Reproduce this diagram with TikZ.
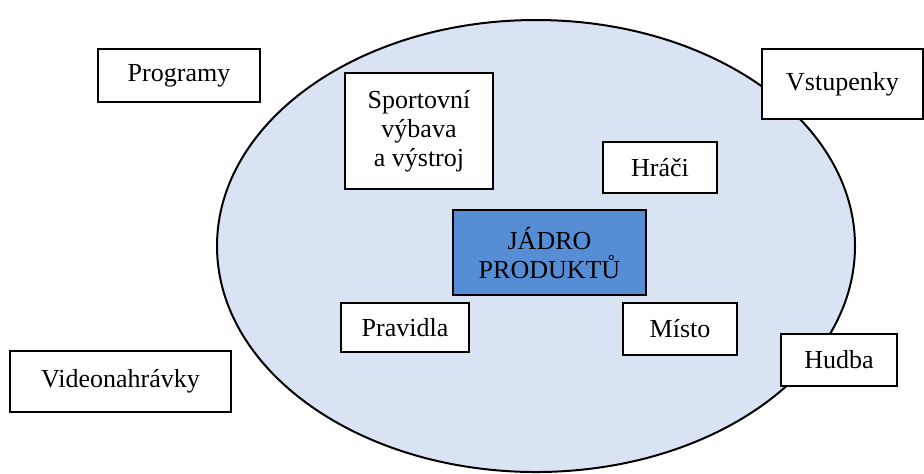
\documentclass[tikz,border=0pt]{standalone}
\usepackage{fontspec}
\setmainfont{Liberation Serif}
\usepackage{tikz}
\usetikzlibrary{positioning,shapes}

\definecolor{ringfill}{HTML}{DAE3F3}
\definecolor{corefill}{HTML}{558ED5}

\begin{document}
\begin{tikzpicture}[x=0.5pt,y=-0.5pt,
  box/.style={draw,line width=1pt,fill=white,align=center,inner sep=2pt,
    font=\fontsize{13}{14.5}\selectfont},
  core/.style={box,fill=corefill}]
\useasboundingbox (0,0) rectangle (924,473);
% the product ring
\node[draw,ellipse,line width=1pt,fill=ringfill,minimum width=319pt,minimum height=226pt] (ring) at (536,246) {};
% inside the ring
\node[core,minimum width=96.5pt,minimum height=42.5pt] (core) at (549.5,252.5)
{JÁDRO\\PRODUKTŮ};
\node[box,minimum width=74pt,minimum height=58pt] (gear) at (419,131)
{Sportovní\\výbava\\a výstroj};
\node[box,minimum width=57pt,minimum height=25.5pt] (players) at (660,167.5)
{Hráči};
\node[box,minimum width=64pt,minimum height=24.5pt] (rules) at (405,327.5)
{Pravidla};
\node[box,minimum width=57pt,minimum height=26pt] (venue) at (680,329)
{Místo};
% outside the ring
\node[box,minimum width=81pt,minimum height=26.5pt] (programs) at (179,75.5)
{Programy};
\node[box,minimum width=80.5pt,minimum height=35pt] (tickets) at (842.5,84)
{Vstupenky};
\node[box,minimum width=110.5pt,minimum height=30.5pt] (videos) at (120.5,381.5)
{Videonahrávky};
\node[box,minimum width=58pt,minimum height=26pt] (music) at (839,360)
{Hudba};
\end{tikzpicture}
\end{document}
